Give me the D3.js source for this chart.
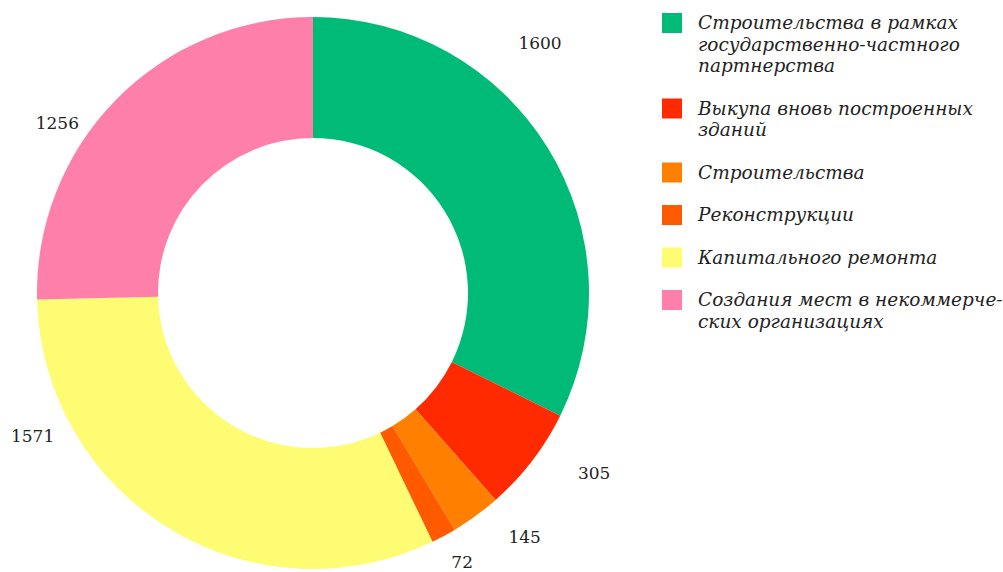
<!DOCTYPE html>
<html>
<head>
<meta charset="utf-8">
<script src="https://cdn.jsdelivr.net/npm/d3@7"></script>
<style>
  body { margin: 0; background: #fff; }
  svg { display: block; }
</style>
</head>
<body>
<script>
// data
const categories = [
  ['Строительства в рамках', 'государственно-частного', 'партнерства'],
  ['Выкупа вновь построенных', 'зданий'],
  ['Строительства'],
  ['Реконструкции'],
  ['Капитального ремонта'],
  ['Создания мест в некоммерче-', 'ских организациях']
];
const values = [1600, 305, 145, 72, 1571, 1256];
const colors = ['#00bb78', '#ff2a00', '#ff8000', '#ff5a00', '#fdfc72', '#ff7fab'];

// label placement (degrees off the slice middle, distance from centre)
const labelShift = [-16, -4.8, -4.8, -0.7, 31.4, -10.7];
const labelRadius = [338, 334, 323, 308, 315, 307];

const W = 1003, H = 572;
const cx = 313, cy = 293;
const rOuter = 276, rInner = 155;

const svg = d3.select('body').append('svg')
  .attr('width', W)
  .attr('height', H);

const pie = d3.pie().sort(null).value(d => d);
const arcs = pie(values);

const arc = d3.arc().innerRadius(rInner).outerRadius(rOuter);

const g = svg.append('g').attr('transform', `translate(${cx},${cy})`);

g.selectAll('path')
  .data(arcs)
  .enter()
  .append('path')
  .attr('d', arc)
  .style('fill', (d, i) => colors[i]);

// value labels
g.selectAll('.val')
  .data(arcs)
  .enter()
  .append('text')
  .attr('class', 'val')
  .attr('transform', (d, i) => {
    const a = (d.startAngle + d.endAngle) / 2 + labelShift[i] * Math.PI / 180;
    const r = labelRadius[i];
    return `translate(${r * Math.sin(a)},${-r * Math.cos(a)})`;
  })
  .attr('text-anchor', 'middle')
  .attr('dy', '0.35em')
  .style('font-family', '"DejaVu Serif", serif')
  .style('font-size', '17px')
  .style('fill', '#222')
  .text(d => d.data);

// legend
const lineH = 21.5, itemStep = 42.5;
let y = 29;
const legend = svg.append('g').attr('transform', 'translate(662,0)');
categories.forEach((lines, i) => {
  const item = legend.append('g').attr('transform', `translate(0,${y})`);
  item.append('rect')
    .attr('x', 0)
    .attr('y', -16)
    .attr('width', 20)
    .attr('height', 20)
    .style('fill', colors[i]);
  const t = item.append('text')
    .attr('x', 36)
    .attr('y', 0)
    .style('font-family', '"DejaVu Serif", serif')
    .style('font-style', 'italic')
    .style('font-size', '18.5px')
    .style('fill', '#222');
  lines.forEach((s, j) => {
    t.append('tspan').attr('x', 36).attr('y', j * lineH).text(s);
  });
  y += (lines.length - 1) * lineH + itemStep;
});
</script>
</body>
</html>
